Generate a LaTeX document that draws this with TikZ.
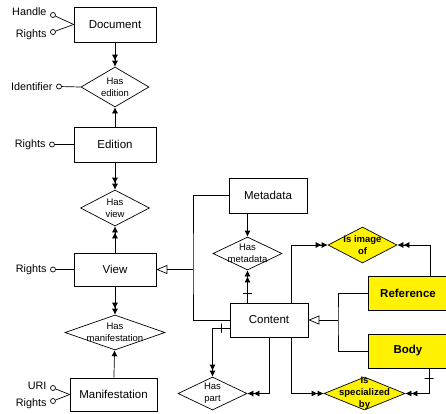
\documentclass[tikz,border=0pt]{standalone}
\usepackage{fontspec}
\setmainfont{Liberation Sans}
\usetikzlibrary{shapes.geometric,arrows.meta,positioning,calc}
\tikzstyle{entity}=[draw, fill=white, minimum width=82pt, minimum height=35pt, font=\fontsize{11.5}{13}\selectfont]
\tikzstyle{relation}=[draw, diamond, inner sep=0pt, minimum width=69pt, minimum height=35pt]
\tikzstyle{attr}=[draw, circle, inner sep=0pt, minimum size=5pt, label distance=3pt]
\tikzstyle{subtype}=[fill=yellow, font=\fontsize{11.5}{13}\selectfont\bfseries]
\tikzstyle{bar}=[draw, sloped, inner sep=0pt, minimum width=0pt, minimum height=9pt]
\tikzstyle{isa}=[-{Triangle[open,length=11pt,width=9pt]}]
\tikzset{rtext/.style={label={[align=center,font=\fontsize{9.5}{12}\selectfont]center:#1}},
  rtextb/.style={label={[align=center,font=\fontsize{9.5}{12}\selectfont\bfseries]center:#1}}}

\begin{document}
\begin{tikzpicture}[x=1pt,y=-1pt,line width=0.7pt,>={Latex[length=6pt,width=6pt]},
    every label/.style={font=\fontsize{10.8}{12}\selectfont}]
    \useasboundingbox (0,0) rectangle (446,413);
    % entities
    \node [entity] (document) at (115,24.5) {Document};
    \node [entity] (edition) at (115,144.5) {Edition};
    \node [entity, minimum height=33pt] (view) at (115,269.5) {View};
    \node [entity, minimum width=87pt, minimum height=33pt] (manif) at (113.5,394.5) {Manifestation};
    \node [entity, minimum width=78pt] (metadata) at (268,195.5) {Metadata};
    \node [entity, minimum width=78pt, minimum height=34pt] (content) at (269,320) {Content};
    \node [entity, subtype, minimum width=80pt, minimum height=34pt] (reference) at (408,293) {Reference};
    \node [entity, subtype, minimum width=80pt, minimum height=34pt] (body) at (408,351) {Body};
    % relations
    \node [relation, minimum width=68pt, minimum height=40pt, rtext={Has\\edition}] (hasedition) at (115,87) {};
    \node [relation, minimum height=36pt, rtext={Has\\view}] (hasview) at (115,208) {};
    \node [relation, minimum width=100pt, rtext={Has\\manifestation}] (hasmanif) at (115,332.5) {};
    \node [relation, minimum height=33pt, rtext={Has\\metadata}] (hasmeta) at (247.5,253.5) {};
    \node [relation, minimum height=33pt, rtext={Has\\part}] (haspart) at (212.5,393.5) {};
    \node [relation, fill=yellow, minimum height=36pt, rtextb={Is image\\of}] (isimage) at (362.5,245) {};
    \node [relation, fill=yellow, minimum width=81pt, minimum height=33pt, rtextb={Is\\specialized\\by}] (isspec) at (364.5,393.5) {};
    % attributes
    \node [attr, label={[yshift=3pt]left:Handle}] (dochandle) at (53,15) {};
    \node [attr, label={[yshift=-3pt]left:Rights}] (docrights) at (53,32) {};
    \node [attr, label=left:Identifier] (edid) at (59,86.5) {};
    \node [attr, label=left:Rights] (edrights) at (52,144.5) {};
    \node [attr, label=left:Rights] (viewrights) at (53,269.5) {};
    \node [attr, label={[yshift=2pt]left:URI}] (manuri) at (53,388) {};
    \node [attr, label={[yshift=-3pt]left:Rights}] (manrights) at (53,401) {};
    \coordinate (isaview) at (193,269.5);
    \coordinate (isacontent) at (338,320);

    \draw (dochandle) -- (document.west);
    \draw (docrights) -- (document.west);
    \draw (edid) -- (hasedition.west);
    \draw (edrights) -- (edition.west);
    \draw (viewrights) -- (view.west);
    \draw (manuri) -- (manif.west);
    \draw (manrights) -- (manif.west);

    \path[->>]
        (document) edge (hasedition)
        (edition) edge (hasview)
        (view) edge (hasview)
        (view) edge (hasmanif);
    \path[->]
        (edition) edge (hasedition)
        (manif) edge (hasmanif)
        (metadata.south -| hasmeta.north) edge (hasmeta.north);

    \draw[->>] (content.north -| hasmeta.south) -- node[bar, pos=0.3] {} (hasmeta.south);
    \draw[->>] ([yshift=-8pt]content.west) -| node[bar, pos=0.23] {} (haspart.north);
    \draw[->>] (content.south) |- (haspart.east);
    \draw[->>] ([xshift=22pt]content.south) |- (isspec.west);
    \draw[->>] ([xshift=22pt]content.north) |- (isimage.west);
    \draw[->>] ([xshift=22pt]reference.north) |- (isimage.east);
    \draw[->>] ([xshift=21pt]body.south) |- node[bar, pos=0.2] {} (isspec.east);

    % subtypes
    \draw (metadata.west) -| (isaview) |- (content.west);
    \draw[isa] (isaview) -- (view.east);
    \draw (reference.west) -| (isacontent) |- (body.west);
    \draw[isa] (isacontent) -- (content.east);
\end{tikzpicture}
\end{document}
